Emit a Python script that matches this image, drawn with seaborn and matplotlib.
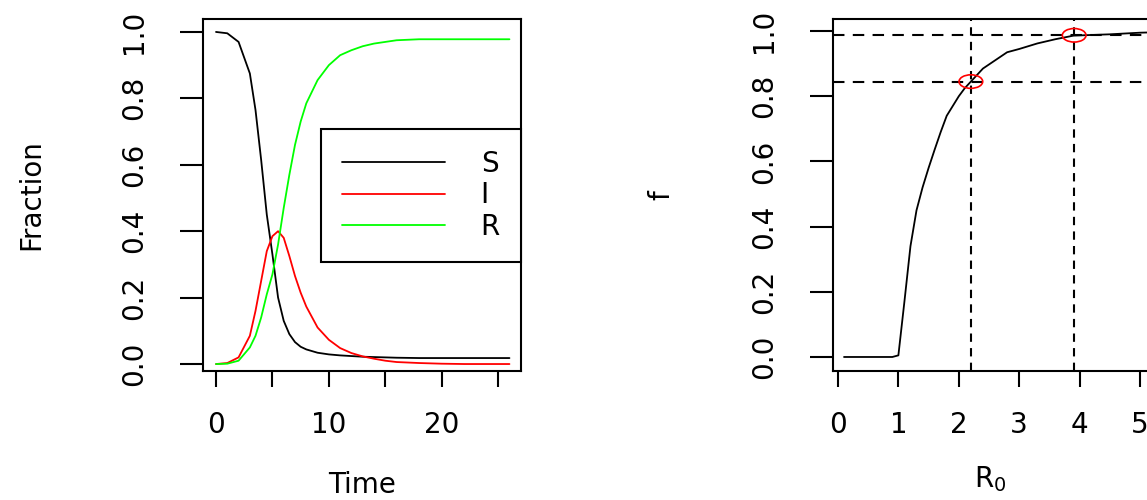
import matplotlib
matplotlib.use("Agg")
import matplotlib.pyplot as plt
from matplotlib.markers import MarkerStyle
from matplotlib.transforms import Affine2D
import seaborn as sns
import pandas as pd

# SIR run (left panel)
time = [0, 1, 2, 3, 3.5, 4, 4.5, 5, 5.5, 6, 6.5, 7, 7.5, 8, 9, 10,
        11, 12, 13, 14, 15, 16, 18, 20, 22, 24, 26]
S = [1.0, 0.996, 0.97, 0.875, 0.765, 0.615, 0.45, 0.33, 0.2, 0.13, 0.09,
     0.066, 0.052, 0.044, 0.034, 0.029, 0.026, 0.024, 0.022, 0.021, 0.02,
     0.019, 0.018, 0.018, 0.018, 0.018, 0.018]
I = [0.0, 0.003, 0.02, 0.085, 0.16, 0.25, 0.34, 0.385, 0.4, 0.38, 0.325,
     0.265, 0.215, 0.173, 0.11, 0.073, 0.048, 0.033, 0.023, 0.016, 0.01,
     0.006, 0.003, 0.001, 0.0, 0.0, 0.0]
R = [0.0, 0.001, 0.01, 0.05, 0.085, 0.14, 0.21, 0.27, 0.36, 0.47, 0.57,
     0.66, 0.73, 0.785, 0.855, 0.9, 0.93, 0.945, 0.957, 0.965, 0.97,
     0.975, 0.978, 0.978, 0.978, 0.978, 0.978]
compartments = ["S", "I", "R"]
colors = ["black", "red", "#00ff00"]

# final size vs R0 (right panel)
R0 = [0.1, 0.5, 0.9, 1.0, 1.1, 1.2, 1.3, 1.4, 1.5, 1.6, 1.7, 1.8, 1.9, 2.0,
      2.1, 2.2, 2.4, 2.6, 2.8, 3.0, 3.3, 3.6, 3.9, 4.2, 4.5, 4.8, 5.0, 5.2]
f = [0.0, 0.0, 0.0, 0.005, 0.17, 0.34, 0.45, 0.52, 0.58, 0.636, 0.69, 0.74,
     0.77, 0.80, 0.825, 0.845, 0.885, 0.91, 0.935, 0.945, 0.962, 0.975,
     0.986, 0.988, 0.99, 0.993, 0.995, 0.996]
mark_R0 = [2.2, 3.91]
mark_f = [0.845, 0.987]

sns.set_style("ticks")
plt.rcParams["font.family"] = ["DejaVu Sans"]
plt.rcParams.update({"text.color": "black", "axes.labelcolor": "black",
                     "xtick.color": "black", "ytick.color": "black"})
fs = 20

sir = pd.DataFrame({"Time": time, "S": S, "I": I, "R": R})
fin = pd.DataFrame({"R0": R0, "f": f})

fig = plt.figure(figsize=(11.47, 5.0), dpi=100)
ax1 = fig.add_axes([0.177, 0.258, 0.277, 0.704])
ax2 = fig.add_axes([0.7262, 0.258, 0.2772, 0.704])

for name, col in zip(compartments, colors):
    sns.lineplot(data=sir, x="Time", y=name, color=col, lw=1.3, ax=ax1, label=name)

ax1.set_xlim(-1.15, 27.0)
ax1.set_ylim(-0.021, 1.039)
ax1.set_xticks([0, 5, 10, 15, 20, 25], ["0", "", "10", "", "20", ""])
ax1.set_yticks([0, 0.2, 0.4, 0.6, 0.8, 1.0], ["0.0", "0.2", "0.4", "0.6", "0.8", "1.0"])
ax1.set_xlabel("Time", fontsize=fs)
ax1.set_ylabel("Fraction", fontsize=fs)
leg = ax1.legend(loc="upper right", bbox_to_anchor=(1.0, 0.6875), borderaxespad=0,
                 fancybox=False, framealpha=1, edgecolor="black", fontsize=fs,
                 handlelength=3.7, handletextpad=1.3, borderpad=0.75,
                 labelspacing=0.13)
leg.get_frame().set_linewidth(1.5)

sns.lineplot(data=fin, x="R0", y="f", color="black", lw=1.3, ax=ax2)
for r0, fv in zip(mark_R0, mark_f):
    ax2.axvline(r0, color="black", lw=1.5, ls=(0, (4, 3)))
    ax2.axhline(fv, color="black", lw=1.5, ls=(0, (5.5, 4)))
ellipse = MarkerStyle("o", transform=Affine2D().scale(1.75, 1.0))
ax2.scatter(mark_R0, mark_f, marker=ellipse, s=95, facecolors="none",
            edgecolors="red", linewidths=1.2, zorder=5)
ax2.set_xlim(-0.083, 5.18)
ax2.set_ylim(-0.043, 1.037)
ax2.set_xticks([0, 1, 2, 3, 4, 5])
ax2.set_yticks([0, 0.2, 0.4, 0.6, 0.8, 1.0], ["0.0", "0.2", "0.4", "0.6", "0.8", "1.0"])
ax2.set_xlabel("R$_0$", fontsize=fs)
ax2.set_ylabel("f", fontsize=fs)

for ax in (ax1, ax2):
    for sp in ax.spines.values():
        sp.set_visible(True)
        sp.set_linewidth(1.5)
        sp.set_color("black")
    ax.tick_params(axis="x", length=11.5, width=1.5, pad=17, labelsize=fs, colors="black")
    ax.tick_params(axis="y", length=16.5, width=1.5, pad=23, labelsize=fs,
                   labelrotation=90, colors="black")
    for lab in ax.get_yticklabels():
        lab.set_va("center")
    ax.yaxis.set_label_coords(-0.497, 0.5)
ax1.xaxis.set_label_coords(0.5, -0.285)
ax2.xaxis.set_label_coords(0.494, -0.265)

fig.savefig("out.png", dpi=100)
